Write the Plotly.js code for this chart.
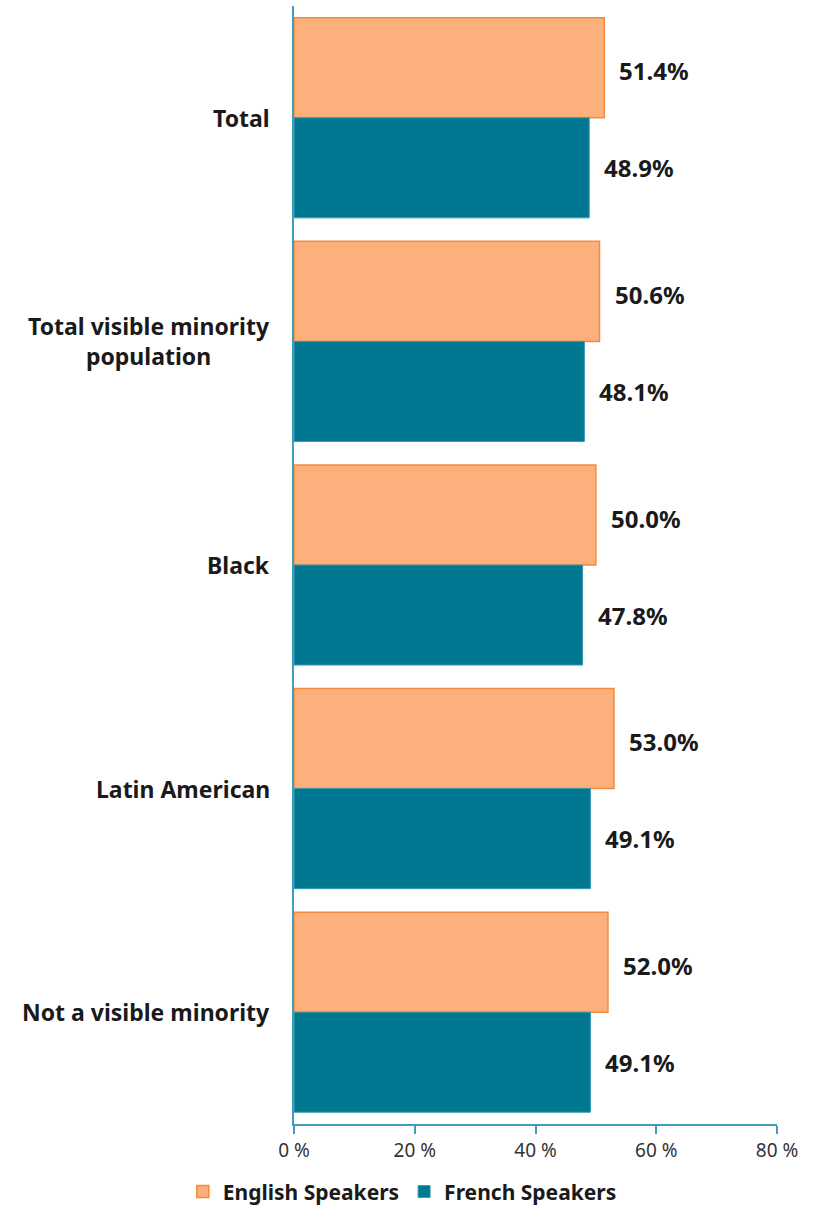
<!DOCTYPE html>
<html>
<head>
<meta charset="utf-8">
<script src="https://cdn.plot.ly/plotly-3.0.1.min.js"></script>
<style>html,body{margin:0;padding:0;background:#fff;}#chart{width:821px;height:1207px;}</style>
</head>
<body>
<div id="chart"></div>
<script>
const categories = ["Total", "Total visible minority<br>population", "Black", "Latin American", "Not a visible minority"];
const englishValues = [51.4, 50.6, 50.0, 53.0, 52.0];
const frenchValues = [48.9, 48.1, 47.8, 49.1, 49.1];
const seriesNames = ["English Speakers", "French Speakers"];
const tickValues = [0, 20, 40, 60, 80];
const tickLabels = ["0 %", "20 %", "40 %", "60 %", "80 %"];

const FONT = "'Noto Sans', 'Open Sans', sans-serif";
const axisColor = "#3f9fb8";

const traces = [
  {
    type: "bar", orientation: "h", name: "<b>" + seriesNames[0] + "</b>",
    y: categories, x: englishValues,
    marker: {color: "#fcb07c", line: {color: "#f58a3a", width: 1.5}},
    hoverinfo: "x"
  },
  {
    type: "bar", orientation: "h", name: "<b>" + seriesNames[1] + "</b>",
    y: categories, x: frenchValues,
    marker: {color: "#007892", line: {color: "#3a9ab3", width: 1}},
    hoverinfo: "x"
  }
];

const annotations = [];
categories.forEach((c, i) => {
  annotations.push({
    xref: "paper", yref: "y", x: 0, y: c, xanchor: "right", xshift: -22,
    text: "<b>" + c + "</b>", showarrow: false, align: "center",
    font: {family: FONT, size: 23, color: "#1a1a1a"}
  });
});
englishValues.forEach((v, i) => {
  annotations.push({
    xref: "x", yref: "y", x: v, y: i - 0.21, xanchor: "left", xshift: 13,
    text: "<b>" + v.toFixed(1) + "%</b>", showarrow: false,
    font: {family: FONT, size: 24, color: "#1a1a1a"}
  });
});
frenchValues.forEach((v, i) => {
  annotations.push({
    xref: "x", yref: "y", x: v, y: i + 0.224, xanchor: "left", xshift: 13,
    text: "<b>" + v.toFixed(1) + "%</b>", showarrow: false,
    font: {family: FONT, size: 24, color: "#1a1a1a"}
  });
});

const layout = {
  width: 821, height: 1207,
  margin: {l: 294, r: 44, t: 6, b: 83, autoexpand: false},
  paper_bgcolor: "#ffffff", plot_bgcolor: "#ffffff",
  barmode: "group", bargap: 0.105, bargroupgap: 0,
  showlegend: true,
  legend: {
    orientation: "h", xref: "container", x: 0.49, xanchor: "center",
    yref: "container", y: 0.0125, yanchor: "middle",
    font: {family: FONT, size: 21, color: "#1a1a1a"},
    itemwidth: 30, traceorder: "normal", tracegroupgap: 0
  },
  xaxis: {
    range: [0, 80], tickvals: tickValues, ticktext: tickLabels,
    showgrid: false, zeroline: false,
    showline: true, linecolor: axisColor, linewidth: 2,
    ticks: "outside", ticklen: 8, tickcolor: axisColor, tickwidth: 2,
    tickfont: {family: FONT, size: 19, color: "#333333"},
    fixedrange: true
  },
  yaxis: {
    type: "category", autorange: "reversed",
    showticklabels: false, showgrid: false, zeroline: false,
    showline: true, linecolor: axisColor, linewidth: 2,
    ticks: "", fixedrange: true
  },
  annotations: annotations
};

Plotly.newPlot("chart", traces, layout, {displayModeBar: false, staticPlot: true});
</script>
</body>
</html>
